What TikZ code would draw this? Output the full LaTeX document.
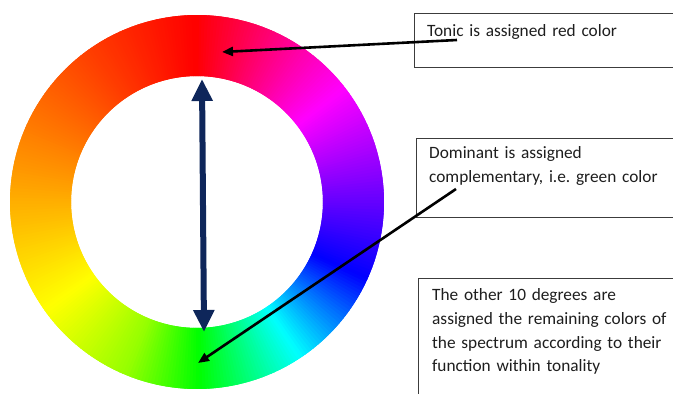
\documentclass[tikz,border=0pt]{standalone}
\usepackage{fontspec}
\setmainfont{Carlito}
\usetikzlibrary{arrows.meta}
\frenchspacing
\definecolor{navyarrow}{RGB}{14,38,90}
\definecolor{boxline}{RGB}{60,60,60}
\definecolor{txt}{RGB}{30,30,30}
\tikzset{
  infobox/.style={draw=boxline, line width=0.9pt},
  infotext/.style={anchor=base west, inner sep=0pt, align=left, text width=240pt,
    text=txt, font=\fontsize{17.3pt}{23.7pt}\selectfont},
  pointer/.style={line width=2.6pt, black, -{Triangle[length=11pt,width=9pt]}},
  dblarrow/.style={line width=6pt, navyarrow, {Triangle[length=22pt,width=20pt]}-{Triangle[length=22pt,width=20pt]}}
}
\begin{document}
\begin{tikzpicture}[x=1pt,y=1pt]
\useasboundingbox (0,0) rectangle (673,394);
\fill[white] (0,0) rectangle (673,394);
\clip (0,0) rectangle (673,394);
% colour wheel
\begin{scope}[shift={(197,192)}]
\foreach \ta/\tb/\ha/\hb in {0/53/360/300, 53/84/300/270, 84/115/270/240, 115/147/240/180, 147/180/180/120, 180/203/120/85, 203/235/85/60, 235/282/60/35, 282/324/35/15, 324/360/15/0}{
  \pgfmathtruncatemacro\n{\tb-\ta-1}
  \foreach \k in {0,...,\n}{
    \pgfmathsetmacro\h{\ha+(\hb-\ha)*(\k+0.5)/(\tb-\ta)}
    \pgfmathsetmacro\aS{90-\ta-\k+0.6}
    \pgfmathsetmacro\aE{90-\ta-\k-1.6}
    \definecolor{wc}{Hsb}{\h,1,1}
    \fill[wc] (\aS:126pt) arc[start angle=\aS, end angle=\aE, radius=126pt]
      -- (\aE:187pt) arc[start angle=\aE, end angle=\aS, radius=187pt] -- cycle;
  }
}
\end{scope}
% boxes
\draw[infobox] (690,381) -- (414,381) -- (414,327) -- (690,327);
\draw[infobox] (690,256) -- (416.5,256) -- (416.5,177) -- (690,177);
\draw[infobox] (690,116) -- (418,116) -- (418,-10);
% texts
\node[infotext] (tonic) at (427,357) {Tonic is assigned red color};
\node[infotext] (dom) at (429,235) {Dominant is assigned\\complementary, i.e. green color};
\node[infotext] (other) at (432,93.3) {The other 10 degrees are\\assigned the remaining colors of\\the spectrum according to their\\function within tonality};
% connectors
\coordinate (t1) at (457,354);
\coordinate (t2) at (222,342);
\coordinate (d1) at (456,205);
\coordinate (d2) at (198,31);
\coordinate (top) at (202,315);
\coordinate (bot) at (204,62);
\draw[pointer] (t1) -- (t2);
\draw[pointer] (d1) -- (d2);
\draw[dblarrow] (top) -- (bot);
\end{tikzpicture}
\end{document}
